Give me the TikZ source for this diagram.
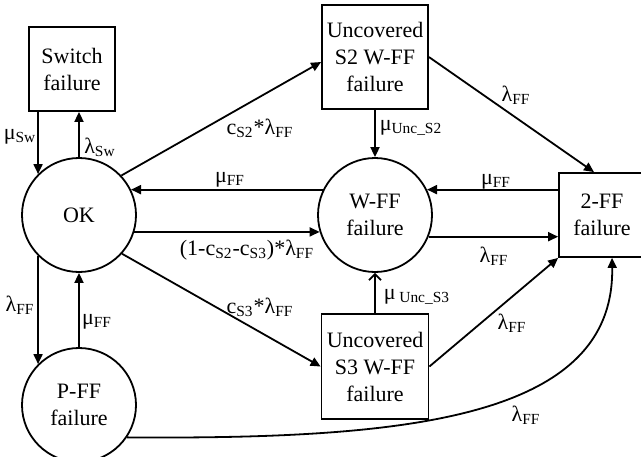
\documentclass[tikz,border=0pt]{standalone}
\usepackage{fontspec}
\setmainfont{Liberation Serif}
\usetikzlibrary{arrows.meta}

\newcommand{\lff}{λ\textsubscript{FF}}
\newcommand{\mff}{μ\textsubscript{FF}}

\tikzset{
  stnode/.style={circle, draw, line width=0.9pt, minimum size=57pt, inner sep=0pt, align=center},
  box/.style={rectangle, draw, line width=0.9pt, inner sep=0pt, align=center},
  arr/.style={line width=0.9pt, -{Triangle[length=5pt,width=4.5pt]}},
  lab/.style={inner sep=0pt}
}

\begin{document}
\begin{tikzpicture}[x=0.5pt, y=-0.5pt, font=\fontsize{11}{13.5}\selectfont]
\useasboundingbox (0,0) rectangle (641,456);

% states
\node [box, minimum width=43pt, minimum height=42pt] (sw) at (72,69) {Switch\\failure};
\node [stnode] (ok) at (79,215) {OK};
\node [stnode] (pff) at (79,405) {P-FF\\failure};
\node [stnode] (wff) at (375,215) {W-FF\\failure};
\node [box, minimum width=53pt, minimum height=52pt] (s2) at (375,57) {Uncovered\\S2 W-FF\\failure};
\node [box, minimum width=53.5pt, minimum height=52.5pt] (s3) at (375,366.5) {Uncovered\\S3 W-FF\\failure};
\node [box, minimum width=43pt, minimum height=42pt] (twoff) at (602,215) {2-FF\\failure};

% switch loop
\draw [arr] (sw.south -| ok.135) -- (ok.135);
\draw [arr] (ok.north) -- (sw.south -| ok.north);
\node [lab] (lmusw) at (20,137) {μ\textsubscript{Sw}};
\node [lab] (llamsw) at (100,147) {λ\textsubscript{Sw}};

% P-FF loop
\draw [arr] (ok.225) -- (pff.135);
\draw [arr] (pff.north) -- (ok.south);
\node [lab] (llamp) at (20,305) {\lff};
\node [lab] (lmup) at (97,322) {\mff};

% from OK
\draw [arr] (ok.43) -- ([yshift=-2.5pt]s2.west);
\node [lab] (lcs2) at (260,128) {c\textsubscript{S2}*\lff};
\draw [arr] (ok.-42) -- (s3.west);
\node [lab] (lcs3) at (260,307) {c\textsubscript{S3}*\lff};
\draw [arr] (wff.154) -- (ok.26);
\node [lab] (lmuok) at (230,180) {\mff};
\draw [arr] (ok.-17) -- (wff.197);
\node [lab] (lcov) at (247,250) {(1-c\textsubscript{S2}-c\textsubscript{S3})*\lff};

% uncovered states
\draw [arr] (s2.south) -- (wff.north);
\node [lab] (lmus2) at (411,128) {μ\textsubscript{Unc\_S2}};
\draw [line width=0.9pt, -{Straight Barb[length=3pt,width=6pt]}] (s3.north) -- (wff.south);
\node [lab] (lmus3) at (417,297) {μ\,\textsubscript{Unc\_S3}};

% 2-FF
\draw [arr] (s2.east) -- ([xshift=-4pt]twoff.north);
\node [lab] (llams2) at (516,95) {\lff};
\draw [arr] (twoff.west |- wff.26) -- (wff.26);
\node [lab] (lmu2ff) at (496,182) {\mff};
\draw [arr] (wff.-22) -- (twoff.west |- wff.-22);
\node [lab] (llamw) at (494,256) {\lff};
\draw [arr] (s3.east) -- (twoff.south west);
\node [lab] (llams3) at (512,323) {\lff};
\draw [arr] (pff.-34) .. controls +(273,2) and +(3,163) .. ([xshift=5pt]twoff.south);
\node [lab] (llamp2) at (526,415) {\lff};

\end{tikzpicture}
\end{document}
